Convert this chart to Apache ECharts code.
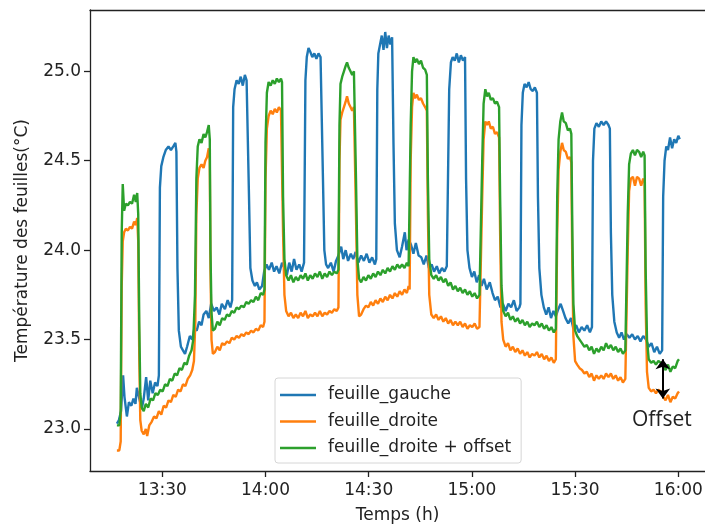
<!DOCTYPE html>
<html>
<head>
<meta charset="utf-8">
<script src="https://cdn.jsdelivr.net/npm/echarts@6/dist/echarts.min.js"></script>
<style>
html,body{margin:0;padding:0;background:#fff;}
#chart{width:705px;height:524px;}
</style>
</head>
<body>
<div id="chart"></div>
<script>
// Time in minutes after 13:00, temperature in °C
const xTickValues = [30, 60, 90, 120, 150, 180];
const xTickLabels = ['13:30', '14:00', '14:30', '15:00', '15:30', '16:00'];
const yTickValues = [23.0, 23.5, 24.0, 24.5, 25.0];
const yTickLabels = ['23.0', '23.5', '24.0', '24.5', '25.0'];
const seriesNames = ['feuille_gauche', 'feuille_droite', 'feuille_droite + offset'];

const feuilleGauche = [
[16.8,23.03],[17.4,23.05],[18.0,23.10],[18.6,23.30],[19.0,23.18],[19.7,23.07],[20.3,23.15],[21.0,23.13],[21.6,23.17],[22.2,23.14],[22.6,23.23],[23.2,23.18],[24.0,23.11],[24.6,23.17],[25.3,23.29],[25.9,23.16],[26.5,23.27],[27.2,23.20],[27.9,23.26],[28.6,23.24],[29.0,23.30],
[29.3,24.35],[29.7,24.47],[30.3,24.52],[31.0,24.56],[31.8,24.58],[32.5,24.56],[33.2,24.58],[33.8,24.60],[34.1,24.55],
[34.4,23.90],[34.8,23.55],[35.4,23.46],[36.0,23.44],[36.6,23.42],[37.2,23.46],[38.0,23.52],[38.7,23.50],[39.3,23.56],[40.0,23.55],[40.7,23.60],[41.4,23.58],[42.0,23.64],[42.8,23.66],[43.5,23.62],[44.2,23.70],[45.0,23.66],[45.8,23.68],[46.6,23.64],[47.3,23.70],[48.2,23.67],[49.0,23.72],[49.8,23.68],[50.3,23.72],
[50.6,24.80],[51.0,24.90],[51.6,24.95],[52.2,24.93],[52.8,24.97],[53.4,24.92],[54.0,24.98],[54.5,24.95],[54.9,24.96],
[55.2,24.30],[55.6,23.90],[56.2,23.83],[56.9,23.80],[57.5,23.82],[58.2,23.78],[59.0,23.80],[59.6,23.88],[60.3,23.92],[61.0,23.89],[61.8,23.93],[62.5,23.88],[63.2,23.91],[64.0,23.87],[64.8,23.93],[65.5,23.90],[66.2,23.86],[66.9,23.93],[67.6,23.88],[68.3,23.95],[69.0,23.89],[69.8,23.92],[70.5,23.88],[71.2,23.93],
[71.6,24.95],[72.0,25.08],[72.5,25.13],[73.0,25.11],[73.6,25.08],[74.2,25.10],[74.8,25.07],[75.4,25.10],[76.0,25.08],[76.4,25.09],
[76.7,24.40],[77.1,24.00],[77.6,23.92],[78.2,23.90],[79.0,23.93],[79.8,23.88],[80.5,23.94],[81.2,23.97],[82.0,24.02],[82.6,23.95],[83.3,24.00],[84.0,23.94],[84.8,23.98],[85.5,23.95],[86.2,23.99],[87.0,23.93],[87.8,23.97],[88.6,23.94],[89.4,23.98],[90.2,23.93],[91.0,23.96],[91.8,23.92],[92.2,23.95],
[92.5,24.90],[92.8,25.10],[93.3,25.15],[93.8,25.20],[94.3,25.12],[94.8,25.22],[95.3,25.13],[95.8,25.20],[96.3,25.15],[96.8,25.19],
[97.2,24.60],[97.6,24.15],[98.2,24.00],[99.0,23.96],[99.7,24.02],[100.5,24.10],[101.0,24.00],[101.6,24.06],[102.3,24.03],[103.0,23.98],[103.7,24.04],[104.5,23.97],[105.3,23.96],[106.0,23.92],[106.8,23.97],[107.5,23.90],[108.3,23.92],[109.0,23.88],[109.8,23.91],[110.5,23.87],[111.3,23.90],[112.0,23.88],[112.7,23.91],[113.1,23.92],
[113.4,24.90],[113.9,25.05],[114.4,25.08],[115.0,25.06],[115.6,25.10],[116.2,25.05],[116.8,25.09],[117.4,25.06],[118.0,25.08],
[118.3,24.40],[118.7,24.00],[119.3,23.90],[120.0,23.85],[120.7,23.88],[121.4,23.82],[122.1,23.86],[122.8,23.80],[123.5,23.84],[124.3,23.78],[125.2,23.82],[126.0,23.76],[126.7,23.72],[127.5,23.74],[128.3,23.68],[129.0,23.70],[129.8,23.66],[130.6,23.70],[131.4,23.68],[132.2,23.72],[133.0,23.66],[133.8,23.68],[134.1,23.70],
[134.4,24.70],[134.8,24.88],[135.3,24.93],[135.9,24.91],[136.5,24.94],[137.1,24.90],[137.7,24.89],[138.3,24.91],[138.9,24.88],
[139.2,24.30],[139.6,23.90],[140.2,23.75],[140.9,23.68],[141.6,23.64],[142.3,23.68],[143.0,23.62],[143.7,23.66],[144.4,23.63],[145.1,23.67],[145.8,23.70],[146.5,23.66],[147.2,23.62],[148.0,23.59],[148.8,23.62],[149.5,23.56],[150.3,23.58],[151.1,23.54],[151.9,23.57],[152.7,23.55],[153.5,23.58],[154.3,23.54],[154.9,23.57],
[155.2,24.50],[155.6,24.68],[156.2,24.71],[156.9,24.69],[157.6,24.72],[158.3,24.70],[159.0,24.72],[159.7,24.70],[160.1,24.68],
[160.4,24.10],[160.8,23.75],[161.4,23.60],[162.1,23.54],[162.8,23.51],[163.5,23.54],[164.2,23.50],[165.0,23.53],[165.8,23.51],[166.6,23.53],[167.4,23.50],[168.2,23.52],[169.0,23.49],[169.8,23.52],[170.6,23.50],[171.4,23.46],[172.2,23.48],[173.0,23.43],[173.8,23.46],[174.6,23.42],[175.3,23.44],
[175.6,24.30],[176.0,24.50],[176.5,24.58],[177.0,24.56],[177.6,24.63],[178.2,24.57],[178.8,24.62],[179.4,24.60],[180.0,24.64],[180.4,24.62]
];

const feuilleDroite = [
[16.8,22.88],[17.5,22.88],[17.9,22.93],[18.2,23.80],[18.5,24.05],[18.9,24.10],[19.4,24.12],[20.0,24.11],[20.6,24.13],[21.2,24.12],[21.8,24.16],[22.3,24.14],[22.7,24.18],[23.0,24.05],
[23.3,23.40],[23.6,23.05],[24.0,22.99],[24.6,22.97],[25.2,23.00],[25.6,22.96],[26.2,23.02],[26.9,23.04],[27.6,23.07],[28.3,23.06],[29.0,23.10],[29.7,23.08],[30.4,23.13],[31.1,23.12],[31.8,23.16],[32.5,23.15],[33.2,23.19],[33.9,23.18],[34.6,23.22],[35.3,23.21],[36.0,23.25],[36.7,23.24],[37.4,23.28],[38.1,23.30],[38.7,23.33],[39.2,23.38],
[39.6,23.60],[39.9,24.20],[40.3,24.40],[40.8,24.46],[41.4,24.48],[42.0,24.46],[42.5,24.50],[43.0,24.52],[43.5,24.57],[43.8,24.50],
[44.0,23.90],[44.3,23.50],[44.7,23.42],[45.3,23.43],[46.0,23.46],[46.7,23.44],[47.4,23.48],[48.1,23.47],[48.8,23.49],[49.5,23.48],[50.2,23.51],[50.9,23.50],[51.6,23.52],[52.3,23.51],[53.0,23.53],[53.7,23.52],[54.4,23.54],[55.1,23.53],[55.8,23.55],[56.5,23.54],[57.2,23.56],[57.9,23.55],[58.6,23.58],[59.3,23.57],[59.7,23.60],
[60.0,24.40],[60.4,24.68],[60.9,24.75],[61.5,24.78],[62.1,24.76],[62.7,24.79],[63.3,24.77],[63.9,24.80],[64.5,24.78],[64.8,24.78],
[65.1,24.10],[65.5,23.75],[66.0,23.66],[66.7,23.63],[67.4,23.65],[68.1,23.62],[68.8,23.64],[69.5,23.62],[70.2,23.65],[70.9,23.63],[71.6,23.66],[72.3,23.62],[73.0,23.64],[73.7,23.63],[74.4,23.65],[75.1,23.63],[75.8,23.66],[76.5,23.63],[77.2,23.65],[77.9,23.64],[78.6,23.66],[79.3,23.65],[80.0,23.67],[80.7,23.66],[81.2,23.68],
[81.5,24.50],[81.8,24.73],[82.3,24.77],[82.8,24.80],[83.3,24.83],[83.7,24.86],[84.2,24.82],[84.7,24.80],[85.2,24.78],[85.7,24.80],[86.0,24.79],
[86.3,24.20],[86.7,23.75],[87.2,23.63],[87.8,23.64],[88.5,23.67],[89.2,23.69],[89.9,23.68],[90.6,23.71],[91.3,23.69],[92.0,23.72],[92.7,23.70],[93.4,23.73],[94.1,23.71],[94.8,23.74],[95.5,23.72],[96.2,23.75],[96.9,23.73],[97.6,23.76],[98.3,23.74],[99.0,23.77],[99.7,23.75],[100.4,23.78],[101.1,23.76],[101.6,23.80],[101.9,23.78],
[102.2,24.50],[102.6,24.80],[103.0,24.88],[103.5,24.85],[104.0,24.87],[104.6,24.84],[105.2,24.85],[105.8,24.82],[106.4,24.80],[106.9,24.78],
[107.2,24.20],[107.6,23.75],[108.2,23.64],[108.9,23.62],[109.6,23.64],[110.3,23.61],[111.0,23.63],[111.7,23.60],[112.4,23.62],[113.1,23.59],[113.8,23.61],[114.5,23.58],[115.2,23.60],[115.9,23.58],[116.6,23.60],[117.3,23.57],[118.0,23.59],[118.7,23.56],[119.4,23.58],[120.1,23.57],[120.8,23.59],[121.5,23.56],[122.2,23.57],[122.7,23.56],
[123.0,24.30],[123.4,24.62],[123.9,24.72],[124.4,24.70],[124.9,24.72],[125.5,24.68],[126.1,24.69],[126.7,24.65],[127.3,24.66],[127.9,24.63],
[128.2,24.10],[128.6,23.60],[129.1,23.50],[129.8,23.46],[130.5,23.48],[131.2,23.44],[131.9,23.46],[132.6,23.43],[133.3,23.45],[134.0,23.42],[134.7,23.44],[135.4,23.41],[136.1,23.43],[136.8,23.40],[137.5,23.42],[138.2,23.41],[138.9,23.43],[139.6,23.40],[140.3,23.42],[141.0,23.39],[141.7,23.41],[142.4,23.38],[143.1,23.40],[143.8,23.37],[144.4,23.39],
[144.8,24.10],[145.2,24.45],[145.7,24.55],[146.2,24.60],[146.7,24.56],[147.3,24.55],[147.9,24.51],[148.5,24.52],[148.9,24.49],
[149.2,23.90],[149.5,23.52],[150.0,23.38],[150.6,23.36],[151.3,23.34],[152.0,23.33],[152.7,23.31],[153.4,23.32],[154.1,23.29],[154.8,23.31],[155.5,23.27],[156.2,23.30],[156.9,23.28],[157.6,23.30],[158.3,23.28],[159.0,23.31],[159.7,23.29],[160.4,23.31],[161.1,23.28],[161.8,23.30],[162.5,23.27],[163.2,23.29],[163.9,23.26],[164.6,23.28],[165.0,23.27],
[165.3,24.00],[165.7,24.33],[166.2,24.40],[166.8,24.41],[167.4,24.36],[168.0,24.41],[168.6,24.40],[169.2,24.36],[169.8,24.40],[170.2,24.38],
[170.5,23.70],[170.9,23.32],[171.4,23.23],[172.1,23.21],[172.8,23.22],[173.5,23.20],[174.2,23.22],[174.9,23.21],[175.6,23.18],[176.3,23.16],[177.0,23.19],[177.7,23.15],[178.4,23.18],[179.1,23.17],[179.8,23.20],[180.2,23.21]
];

const feuilleDroiteOffset = [
[16.8,23.02],[17.5,23.02],[17.9,23.10],[18.2,24.10],[18.5,24.37],[18.9,24.22],[19.4,24.26],[20.0,24.25],[20.6,24.27],[21.2,24.26],[21.8,24.31],[22.3,24.27],[22.7,24.32],[23.0,24.20],
[23.3,23.60],[23.6,23.20],[24.0,23.12],[24.6,23.10],[25.2,23.14],[25.9,23.12],[26.6,23.17],[27.3,23.16],[28.0,23.20],[28.7,23.19],[29.4,23.22],[30.1,23.21],[30.8,23.25],[31.5,23.24],[32.2,23.28],[32.9,23.27],[33.6,23.31],[34.3,23.30],[35.0,23.34],[35.7,23.33],[36.4,23.37],[37.1,23.36],[37.8,23.41],[38.5,23.44],[39.0,23.50],
[39.5,23.75],[39.9,24.40],[40.3,24.58],[40.8,24.62],[41.4,24.60],[42.0,24.65],[42.5,24.63],[43.0,24.66],[43.5,24.70],[43.8,24.62],
[44.0,24.00],[44.3,23.65],[44.7,23.55],[45.3,23.56],[46.0,23.60],[46.7,23.58],[47.4,23.62],[48.1,23.61],[48.8,23.64],[49.5,23.63],[50.2,23.66],[50.9,23.65],[51.6,23.68],[52.3,23.67],[53.0,23.69],[53.7,23.68],[54.4,23.71],[55.1,23.70],[55.8,23.72],[56.5,23.71],[57.2,23.74],[57.9,23.72],[58.6,23.76],[59.3,23.75],[59.7,23.78],
[60.0,24.60],[60.4,24.88],[60.9,24.94],[61.5,24.92],[62.1,24.95],[62.7,24.93],[63.3,24.96],[63.9,24.94],[64.5,24.96],[64.8,24.94],
[65.1,24.30],[65.5,23.95],[66.0,23.86],[66.7,23.83],[67.4,23.86],[68.1,23.82],[68.8,23.85],[69.5,23.83],[70.2,23.86],[70.9,23.84],[71.6,23.87],[72.3,23.83],[73.0,23.86],[73.7,23.84],[74.4,23.87],[75.1,23.85],[75.8,23.88],[76.5,23.84],[77.2,23.87],[77.9,23.85],[78.6,23.88],[79.3,23.86],[80.0,23.88],[80.7,23.87],[81.2,23.89],
[81.5,24.70],[81.8,24.93],[82.3,24.97],[82.8,25.00],[83.3,25.03],[83.7,25.05],[84.2,25.02],[84.7,25.00],[85.2,24.98],[85.7,25.00],[86.0,24.99],
[86.3,24.40],[86.7,23.95],[87.2,23.84],[87.8,23.82],[88.5,23.85],[89.2,23.83],[89.9,23.86],[90.6,23.84],[91.3,23.87],[92.0,23.85],[92.7,23.88],[93.4,23.86],[94.1,23.89],[94.8,23.87],[95.5,23.90],[96.2,23.88],[96.9,23.91],[97.6,23.89],[98.3,23.92],[99.0,23.90],[99.7,23.92],[100.4,23.90],[101.1,23.93],[101.6,23.91],[101.9,23.92],
[102.2,24.70],[102.6,25.00],[103.0,25.08],[103.5,25.05],[104.0,25.07],[104.6,25.04],[105.2,25.06],[105.8,25.02],[106.4,25.01],[106.9,24.98],
[107.2,24.40],[107.6,23.95],[108.2,23.86],[108.9,23.84],[109.6,23.86],[110.3,23.83],[111.0,23.85],[111.7,23.82],[112.4,23.84],[113.1,23.80],[113.8,23.82],[114.5,23.78],[115.2,23.80],[115.9,23.77],[116.6,23.79],[117.3,23.76],[118.0,23.78],[118.7,23.75],[119.4,23.77],[120.1,23.74],[120.8,23.76],[121.5,23.73],[122.2,23.75],[122.7,23.74],
[123.0,24.50],[123.4,24.82],[123.9,24.90],[124.4,24.86],[124.9,24.88],[125.5,24.84],[126.1,24.85],[126.7,24.82],[127.3,24.83],[127.9,24.80],
[128.2,24.30],[128.6,23.80],[129.1,23.66],[129.8,23.63],[130.5,23.65],[131.2,23.61],[131.9,23.63],[132.6,23.60],[133.3,23.62],[134.0,23.59],[134.7,23.61],[135.4,23.58],[136.1,23.60],[136.8,23.57],[137.5,23.59],[138.2,23.58],[138.9,23.60],[139.6,23.57],[140.3,23.59],[141.0,23.56],[141.7,23.58],[142.4,23.55],[143.1,23.57],[143.8,23.54],[144.4,23.56],
[144.8,24.30],[145.2,24.62],[145.7,24.72],[146.2,24.77],[146.7,24.72],[147.3,24.71],[147.9,24.67],[148.5,24.68],[148.9,24.65],
[149.2,24.10],[149.5,23.70],[150.0,23.55],[150.6,23.52],[151.3,23.50],[152.0,23.48],[152.7,23.46],[153.4,23.47],[154.1,23.44],[154.8,23.46],[155.5,23.42],[156.2,23.45],[156.9,23.43],[157.6,23.46],[158.3,23.44],[159.0,23.48],[159.7,23.45],[160.4,23.47],[161.1,23.44],[161.8,23.46],[162.5,23.43],[163.2,23.45],[163.9,23.42],[164.6,23.44],[165.0,23.43],
[165.3,24.20],[165.7,24.48],[166.2,24.54],[166.8,24.56],[167.4,24.53],[168.0,24.56],[168.6,24.55],[169.2,24.52],[169.8,24.55],[170.2,24.53],
[170.5,23.90],[170.9,23.50],[171.4,23.39],[172.1,23.37],[172.8,23.38],[173.5,23.36],[174.2,23.38],[174.9,23.37],[175.6,23.35],[176.3,23.33],[177.0,23.36],[177.7,23.32],[178.4,23.35],[179.1,23.34],[179.8,23.38],[180.2,23.39]
];

// annotation: offset arrow tips (data coordinates) and its label
const offsetArrow = [[175.5, 23.39], [175.5, 23.17]];
const offsetLabelPos = [175.2, 23.05];

const FONT = 'DejaVu Sans';
const FS = 17;
const TXT = '#222';
const colors = ['#1f77b4', '#ff7f0e', '#2ca02c'];

const chart = echarts.init(document.getElementById('chart'), null, {renderer: 'canvas'});

const lineSeries = (name, data, color, extra) => Object.assign({
  name: name,
  type: 'line',
  data: data,
  symbol: 'none',
  showSymbol: false,
  smooth: false,
  silent: true,
  animation: false,
  lineStyle: {color: color, width: 2.4},
  itemStyle: {color: color},
  z: 2
}, extra || {});

chart.setOption({
  animation: false,
  backgroundColor: '#fff',
  color: colors,
  grid: {left: 90, right: 0, top: 10, bottom: 53, containLabel: false, outerBoundsMode: 'none'},
  xAxis: [{
    type: 'value',
    min: 8.98,
    max: 187.76,
    position: 'bottom',
    axisLine: {show: true, lineStyle: {color: '#222', width: 1.3}},
    axisTick: {show: true, length: 6, lineStyle: {color: '#222', width: 1.3}, customValues: xTickValues},
    axisLabel: {
      show: true, margin: 11, color: TXT, fontFamily: FONT, fontSize: FS,
      customValues: xTickValues,
      formatter: function (v) { const i = xTickValues.indexOf(v); return i >= 0 ? xTickLabels[i] : ''; }
    },
    splitLine: {show: false},
    name: 'Temps (h)',
    nameLocation: 'middle',
    nameGap: 36,
    nameTextStyle: {color: TXT, fontFamily: FONT, fontSize: FS}
  }, {
    type: 'value',
    min: 8.98,
    max: 187.76,
    position: 'top',
    axisLine: {show: true, lineStyle: {color: '#222', width: 1.3}},
    axisTick: {show: false},
    axisLabel: {show: false},
    splitLine: {show: false}
  }],
  yAxis: {
    type: 'value',
    min: 22.765,
    max: 25.343,
    axisLine: {show: true, lineStyle: {color: '#222', width: 1.3}},
    axisTick: {show: true, length: 6, lineStyle: {color: '#222', width: 1.3}, customValues: yTickValues},
    axisLabel: {
      show: true, margin: 9, color: TXT, fontFamily: FONT, fontSize: FS,
      customValues: yTickValues,
      formatter: function (v) {
        let best = 0;
        yTickValues.forEach(function (t, i) { if (Math.abs(t - v) < Math.abs(yTickValues[best] - v)) best = i; });
        return yTickLabels[best];
      }
    },
    splitLine: {show: false},
    name: 'Température des feuilles(°C)',
    nameLocation: 'middle',
    nameGap: 59,
    nameTextStyle: {color: TXT, fontFamily: FONT, fontSize: FS}
  },
  legend: {
    show: true,
    orient: 'vertical',
    left: 275,
    top: 378,
    data: seriesNames,
    icon: 'rect',
    itemWidth: 36,
    itemHeight: 2.4,
    itemGap: 8.5,
    padding: [8, 10, 6, 5],
    backgroundColor: 'rgba(255,255,255,0.8)',
    borderColor: '#d6d6d6',
    borderWidth: 1,
    borderRadius: 3,
    selectedMode: false,
    textStyle: {color: TXT, fontFamily: FONT, fontSize: FS, lineHeight: 18, padding: [0, 0, 0, 7]}
  },
  series: [
    lineSeries(seriesNames[0], feuilleGauche, colors[0]),
    lineSeries(seriesNames[1], feuilleDroite, colors[1]),
    lineSeries(seriesNames[2], feuilleDroiteOffset, colors[2], {
      markLine: {
        silent: true,
        animation: false,
        symbol: ['arrow', 'arrow'],
        symbolSize: [11, 10],
        label: {show: false},
        lineStyle: {color: '#000', width: 2, type: 'solid'},
        emphasis: {disabled: true},
        data: [[{coord: offsetArrow[0]}, {coord: offsetArrow[1]}]]
      },
      markPoint: {
        silent: true,
        animation: false,
        symbol: 'circle',
        symbolSize: 1,
        itemStyle: {color: 'rgba(0,0,0,0)'},
        label: {show: true, position: 'inside', formatter: 'Offset', color: '#222', fontFamily: 'Open Sans', fontSize: 21},
        data: [{coord: offsetLabelPos}]
      }
    })
  ]
});
</script>
</body>
</html>
